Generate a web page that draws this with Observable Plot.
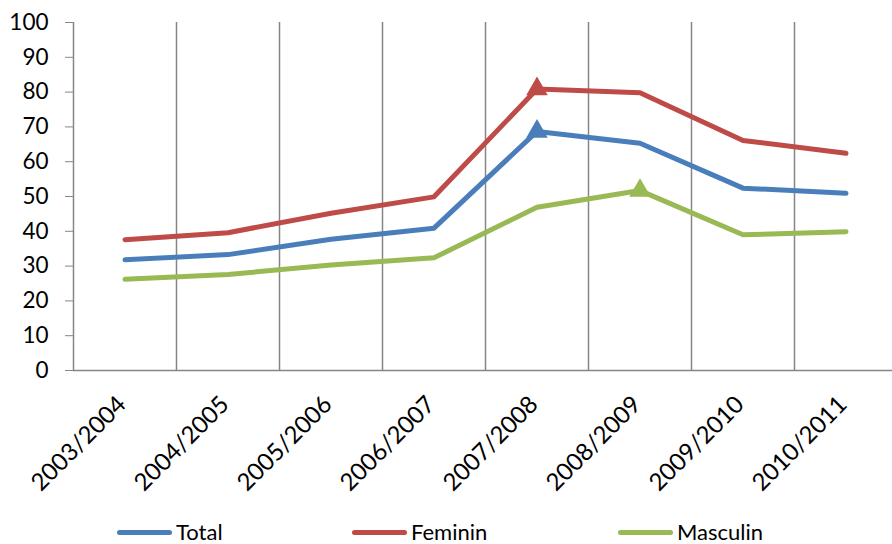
<!DOCTYPE html>
<html><head><meta charset="utf-8">
<script src="https://cdn.jsdelivr.net/npm/d3@7"></script>
<script src="https://cdn.jsdelivr.net/npm/@observablehq/plot@0.6"></script>
<style>
body{margin:0;background:#fff;font-family:Lato,sans-serif}
#c{position:relative;width:892px;height:544px;overflow:hidden}
.lg{position:absolute;top:519px;display:flex;align-items:center;font-size:22px;color:#000;line-height:26px}
.sw{display:inline-block;width:55px;height:5px;border-radius:3px;margin-right:4px}
</style>
</head><body><div id="c"></div>
<script>
const years = ["2003/2004","2004/2005","2005/2006","2006/2007","2007/2008","2008/2009","2009/2010","2010/2011"];
const total    = [31.8, 33.3, 37.7, 40.9, 68.7, 65.3, 52.4, 50.9];
const feminin  = [37.6, 39.6, 45.2, 49.9, 80.9, 79.8, 66.1, 62.4];
const masculin = [26.2, 27.6, 30.3, 32.4, 46.9, 51.7, 39.0, 39.9];
const seriesNames = ["Total", "Feminin", "Masculin"];
const colors = ["#4A7EBB", "#BE4B48", "#98B954"];
const yTicks = [0, 10, 20, 30, 40, 50, 60, 70, 80, 90, 100];
const markerSeries = ["Total", "Feminin", "Masculin"];
const markerYears = ["2007/2008", "2007/2008", "2008/2009"];

const values = {Total: total, Feminin: feminin, Masculin: masculin};
const rows = seriesNames.flatMap(s => years.map((y, i) => ({series: s, i, v: values[s][i]})));
const markerRows = markerSeries.map((s, k) => {
  const i = years.indexOf(markerYears[k]);
  return {series: s, i, v: values[s][i]};
});
const gridPos = years.slice(1).map((_, k) => k + 0.5);

const chart = Plot.plot({
  width: 892, height: 505,
  marginLeft: 73, marginRight: -5, marginTop: 22, marginBottom: 135,
  style: {fontFamily: "Lato, sans-serif", fontSize: "22.5px", color: "#000", background: "#fff"},
  x: {type: "linear", domain: [-0.5, years.length - 0.5]},
  y: {domain: [0, 100]},
  color: {domain: seriesNames, range: colors},
  marks: [
    Plot.ruleX(gridPos, {stroke: "#868686", strokeWidth: 1.5}),
    Plot.ruleX([-0.5], {stroke: "#868686", strokeWidth: 1.5}),
    Plot.ruleY([0], {stroke: "#868686", strokeWidth: 1.5}),
    Plot.axisY({ticks: yTicks, tickSize: 8, tickPadding: 17, stroke: "#868686", fill: "#000", label: null}),
    Plot.axisX({ticks: years.map((_, i) => i), tickSize: 0, tickRotate: -45, tickPadding: 8, dx: -3, dy: 22,
      tickFormat: i => years[i], fill: "#000", fontSize: 24, label: null}),
    Plot.line(rows, {x: "i", y: "v", z: "series", stroke: "series", strokeWidth: 5,
      curve: "linear", strokeLinecap: "round", strokeLinejoin: "round"}),
    Plot.dot(markerRows, {x: "i", y: "v", fill: "series", symbol: "triangle", r: 8})
  ]
});
const c = document.getElementById("c");
c.appendChild(chart);
const lgPos = [117, 352, 618];
seriesNames.forEach((s, k) => {
  const d = document.createElement("div");
  d.className = "lg";
  d.style.left = lgPos[k] + "px";
  d.innerHTML = `<span class="sw" style="background:${colors[k]}"></span>${s}`;
  c.appendChild(d);
});
</script>
</body></html>
